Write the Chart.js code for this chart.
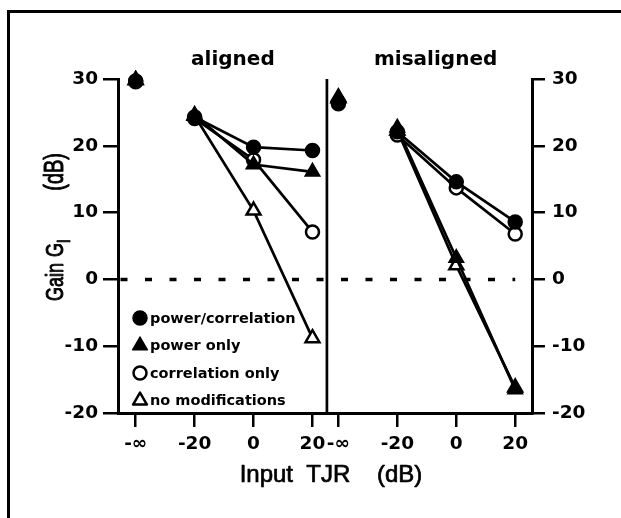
<!DOCTYPE html>
<html>
<head>
<meta charset="utf-8">
<script src="https://cdn.jsdelivr.net/npm/chart.js@4.4.1/dist/chart.umd.min.js"></script>
<style>
  html, body { margin: 0; padding: 0; background: #fff; }
  #wrap { position: relative; width: 621px; height: 518px; overflow: hidden; }
  #frame { position: absolute; left: 7px; top: 10px; right: -5px; bottom: -5px; border-top: 3px solid #000; border-left: 3px solid #000; }
  #gainChart { position: absolute; left: 0; top: 0; }
</style>
</head>
<body>
<div id="wrap">
  <div id="frame"></div>
  <canvas id="gainChart" width="621" height="518"></canvas>
</div>
<script>
// input TJR (dB) and the tick columns; the first column is the "-inf" condition
var tjr = [-20, 0, 20];
var tickValues = [-40, -20, 0, 20];
var tickLabels = ['-\u221e', '-20', '0', '20'];
var panelTitles = ['aligned', 'misaligned'];
var seriesNames = ['power/correlation', 'power only', 'correlation only', 'no modifications'];

// gain G_I (dB)
var alignedPowerCorr = [24.3, 19.8, 19.3];
var alignedPowerOnly = [24.6, 17.2, 16.1];
var alignedCorrOnly = [24.1, 17.9, 7.1];
var alignedNoMod = [24.5, 10.3, -8.8];
var alignedAtInf = [29.7, 29.9, 29.6, 29.8];

var misalignedPowerCorr = [22.1, 14.6, 8.6];
var misalignedPowerOnly = [22.7, 3.2, -16.5];
var misalignedCorrOnly = [21.6, 13.7, 6.8];
var misalignedNoMod = [22.3, 2.1, -16.2];
var misalignedAtInf = [26.5, 27.3, 26.3, 27.1];

// layout of the two panels on one shared x scale
var PANEL_SHIFT = 68.8;
var DIVIDER = 24.9;
var X_MIN = -46, X_MAX = 94.5;

var markers = [
  { style: 'circle', radius: 7, fill: '#000', border: 1.5 },
  { style: 'triangle', radius: 8.5, fill: '#000', border: 1.5 },
  { style: 'circle', radius: 6.5, fill: '#fff', border: 2.5 },
  { style: 'triangle', radius: 8, fill: '#fff', border: 2.5 }
];

var panels = [
  { shift: 0, series: [alignedPowerCorr, alignedPowerOnly, alignedCorrOnly, alignedNoMod], atInf: alignedAtInf },
  { shift: PANEL_SHIFT, series: [misalignedPowerCorr, misalignedPowerOnly, misalignedCorrOnly, misalignedNoMod], atInf: misalignedAtInf }
];

var tickFont = { family: 'DejaVu Sans', weight: 'bold', size: 18.5 };

var datasets = [];
panels.forEach(function (p) {
  p.series.forEach(function (vals, i) {
    var m = markers[i];
    var common = {
      label: seriesNames[i],
      borderColor: '#000',
      borderWidth: 2.7,
      pointStyle: m.style,
      pointRadius: m.radius,
      pointBackgroundColor: m.fill,
      pointBorderColor: '#000',
      pointBorderWidth: m.border,
      clip: false
    };
    datasets.push(Object.assign({}, common, {
      data: tjr.map(function (x, k) { return { x: x + p.shift, y: vals[k] }; }),
      showLine: true
    }));
    datasets.push(Object.assign({}, common, {
      data: [{ x: tickValues[0] + p.shift, y: p.atInf[i] }],
      showLine: false
    }));
  });
});

// dashed 0 dB reference and the line between the panels
datasets.push({
  label: 'zero',
  data: [{ x: X_MIN, y: 0 }, { x: PANEL_SHIFT + tjr[2], y: 0 }],
  showLine: true, borderColor: '#000', borderWidth: 3.5,
  borderDash: [7, 17.5], borderDashOffset: 22, pointRadius: 0, clip: false
});
datasets.push({
  label: 'divider',
  data: [{ x: DIVIDER, y: -20 }, { x: DIVIDER, y: 30 }],
  showLine: true, borderColor: '#000', borderWidth: 2.7, pointRadius: 0, clip: false
});

function drawMarker(ctx, m, x, y) {
  ctx.save();
  ctx.fillStyle = m.fill;
  ctx.strokeStyle = '#000';
  ctx.lineWidth = m.border;
  ctx.beginPath();
  if (m.style === 'circle') {
    ctx.arc(x, y, m.radius, 0, Math.PI * 2);
  } else {
    var r = m.radius;
    ctx.moveTo(x, y - r);
    ctx.lineTo(x + r * Math.sin(Math.PI * 2 / 3), y + r / 2);
    ctx.lineTo(x - r * Math.sin(Math.PI * 2 / 3), y + r / 2);
  }
  ctx.closePath();
  ctx.fill();
  ctx.stroke();
  ctx.restore();
}

// fill plus a thin stroke, to get the heavy look of the printed labels
function heavyText(ctx, s, x, y) {
  ctx.fillText(s, x, y);
  ctx.strokeText(s, x, y);
}

var labelsPlugin = {
  id: 'figureText',
  afterDraw: function (chart) {
    var ctx = chart.ctx;
    var xs = chart.scales.x;
    var area = chart.chartArea;
    ctx.save();
    ctx.fillStyle = '#000';
    ctx.strokeStyle = '#000';
    ctx.lineWidth = 0.7;
    ctx.lineJoin = 'round';

    // panel titles
    ctx.font = 'bold 20px "DejaVu Sans"';
    ctx.textAlign = 'center';
    ctx.textBaseline = 'alphabetic';
    panels.forEach(function (p, i) {
      ctx.fillText(panelTitles[i], xs.getPixelForValue(-7 + p.shift), 65);
    });

    // x axis title
    ctx.font = '24px "Liberation Sans"';
    heavyText(ctx, 'Input  TJR    (dB)', (area.left + area.right) / 2 + 6, 482);

    // y axis title with subscript
    ctx.save();
    ctx.translate(63, 0);
    ctx.rotate(-Math.PI / 2);
    ctx.scale(1, 1.35);
    ctx.textAlign = 'left';
    ctx.font = '18px "Liberation Sans"';
    heavyText(ctx, 'Gain', -301, 0);
    heavyText(ctx, 'G', -257, 0);
    ctx.font = '13px "Liberation Sans"';
    heavyText(ctx, 'I', -243, 5);
    ctx.font = '20px "Liberation Sans"';
    ctx.textAlign = 'right';
    heavyText(ctx, '(dB)', -153, 0);
    ctx.restore();

    // legend
    ctx.font = 'bold 14.5px "DejaVu Sans"';
    ctx.textAlign = 'left';
    seriesNames.forEach(function (name, i) {
      var base = 322.5 + i * 27.5;
      drawMarker(ctx, markers[i], 140, base - 4.5);
      ctx.fillText(name, 150, base);
    });
    ctx.restore();
  }
};

var axisLine = { display: true, color: '#000', width: 3 };

new Chart(document.getElementById('gainChart'), {
  type: 'scatter',
  data: { datasets: datasets },
  options: {
    responsive: false,
    animation: false,
    layout: { padding: { left: 0, right: 0, top: 79, bottom: 0 } },
    plugins: { legend: { display: false }, tooltip: { enabled: false } },
    scales: {
      x: {
        type: 'linear',
        position: 'bottom',
        min: X_MIN,
        max: X_MAX,
        afterBuildTicks: function (scale) {
          var t = [];
          panels.forEach(function (p) {
            tickValues.forEach(function (v) { t.push({ value: v + p.shift }); });
          });
          scale.ticks = t;
        },
        afterFit: function (scale) { scale.height = 105; },
        grid: { drawOnChartArea: false, drawTicks: true, tickLength: 14, color: '#000', lineWidth: 2.5 },
        border: axisLine,
        ticks: {
          color: '#000', font: tickFont, padding: 6,
          autoSkip: false, maxRotation: 0, minRotation: 0,
          callback: function (value) {
            var local = value > DIVIDER ? value - PANEL_SHIFT : value;
            var k = tickValues.indexOf(Math.round(local));
            return k >= 0 ? tickLabels[k] : '';
          }
        }
      },
      y: {
        position: 'left',
        min: -20,
        max: 30,
        afterFit: function (scale) { scale.width = 118; },
        grid: { drawOnChartArea: false, drawTicks: true, tickLength: 15, color: '#000', lineWidth: 2.5 },
        border: axisLine,
        ticks: { color: '#000', font: tickFont, padding: 5, stepSize: 10 }
      },
      y2: {
        position: 'right',
        min: -20,
        max: 30,
        afterFit: function (scale) { scale.width = 89; },
        grid: { drawOnChartArea: false, drawTicks: true, tickLength: 13, color: '#000', lineWidth: 2.5 },
        border: axisLine,
        ticks: { color: '#000', font: tickFont, padding: 7, stepSize: 10 }
      }
    }
  },
  plugins: [labelsPlugin]
});
</script>
</body>
</html>
